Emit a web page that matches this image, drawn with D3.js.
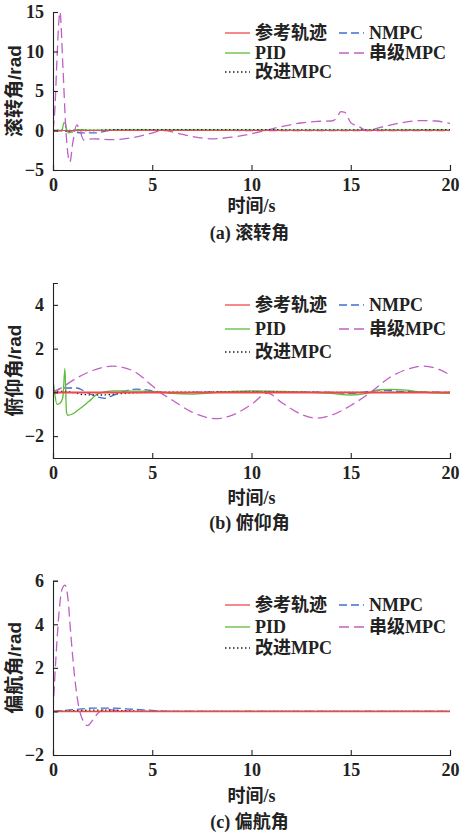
<!DOCTYPE html>
<html>
<head>
<meta charset="utf-8">
<script src="https://cdn.jsdelivr.net/npm/d3@7/dist/d3.min.js"></script>
<style>
  body { margin: 0; background: #fff; }
  .serif { font-family: "Liberation Serif", "Noto Sans CJK SC", serif; font-weight: bold; fill: #222; }
  .sans { font-family: "Liberation Sans", "Noto Sans CJK SC", sans-serif; font-weight: bold; fill: #222; }
  .axis path { fill: none; stroke: #222; }
  .axis line { stroke: #222; }
</style>
</head>
<body>
<svg id="fig" width="463" height="838"></svg>
<script>
// series names in legend order (row by row, two columns)
var names = ["参考轨迹", "NMPC", "PID", "串级MPC", "改进MPC"]
var xTicks = [0, 5, 10, 15, 20]

// (a) roll angle, [t, value]
var rollRef = [[0, 0], [20, 0]]
var rollNmpc = [[0, 0], [0.5, -0.05], [1, -0.2], [1.5, -0.3], [2.2, -0.3], [2.6, -0.1], [3, 0.05], [5, 0.05], [10, 0], [15, 0], [20, 0]]
var rollPid = [[0, 0], [0.45, 0], [0.55, 1.0], [0.62, 0.9], [0.7, 0], [0.8, -0.3], [1, 0], [1.3, 0.1], [2, 0.05], [5, 0.08], [10, 0.05], [15, 0.05], [20, 0.08]]
var rollCascade = [[0, 0], [0.1, 3], [0.2, 9], [0.3, 14], [0.35, 15], [0.5, 8], [0.65, 0], [0.85, -4], [1.0, -1.5], [1.2, 0.7], [1.35, 0], [1.55, -1.2], [2, -1.05], [3, -1.15], [4, -0.9], [4.8, -0.45], [5.6, 0], [6.2, -0.3], [7, -0.75], [8, -1.05], [9, -0.85], [10, -0.4], [10.7, 0], [11.5, 0.5], [12.5, 0.95], [13.3, 1.15], [14, 1.2], [14.3, 1.6], [14.5, 2.4], [14.7, 2.3], [15, 1.0], [15.4, 0.5], [15.8, 0], [16.5, 0.4], [17.5, 0.95], [18.5, 1.25], [19.3, 1.2], [20, 0.9]]
var rollImproved = [[0, 0], [1, 0], [2, 0], [3, 0.1], [5, 0.12], [10, 0.1], [15, 0.08], [20, 0.1]]
var rollTicks = [-5, 0, 5, 10, 15]

// (b) pitch angle
var pitchRef = [[0, 0], [20, 0]]
var pitchNmpc = [[0, 0], [0.3, 0.15], [0.6, 0.2], [1.2, 0.2], [1.6, 0.05], [2.2, -0.2], [2.6, -0.27], [3, -0.15], [3.6, 0.05], [4.2, 0.15], [4.8, 0.1], [5.5, 0], [6, -0.05], [7, 0], [10, 0.03], [14, 0], [15, -0.05], [16.5, 0.1], [17.5, 0.05], [20, 0]]
var pitchPid = [[0, 0.6], [0.08, 0], [0.2, -0.55], [0.35, -0.5], [0.5, -0.2], [0.6, 1.1], [0.68, -0.9], [0.75, -1.05], [0.95, -1.0], [1.3, -0.78], [1.8, -0.42], [2.3, -0.05], [3, 0.07], [4, 0.06], [5, 0.05], [6, -0.05], [7, -0.08], [8, -0.02], [9, 0.05], [10, 0.07], [11, 0.06], [12, 0.03], [13, 0], [14, -0.05], [15, -0.12], [15.8, -0.05], [16.5, 0.12], [17, 0.14], [17.8, 0.1], [18.5, 0.02], [20, -0.05]]
var pitchCascade = [[0, 0], [0.5, 0.25], [1, 0.55], [2, 1.0], [3, 1.2], [4, 1.0], [5, 0.3], [5.4, 0], [6, -0.35], [7, -0.9], [8.2, -1.2], [9, -1.05], [10, -0.55], [10.8, -0.03], [11.5, -0.45], [12.5, -1.0], [13.3, -1.18], [14, -1.05], [15, -0.6], [16, 0], [17, 0.7], [18, 1.1], [18.6, 1.2], [19.3, 1.1], [20, 0.8]]
var pitchImproved = [[0, 0], [0.5, 0.05], [1, 0], [1.5, -0.1], [2.5, -0.12], [3.5, -0.05], [5, 0], [10, 0.02], [15, 0], [20, 0]]
var pitchTicks = [-2, 0, 2, 4]

// (c) yaw angle
var yawRef = [[0, 0], [20, 0]]
var yawNmpc = [[0, 0], [1, 0.08], [2, 0.15], [3, 0.15], [4, 0.1], [5, 0.05], [6, 0], [20, 0]]
var yawPid = [[0, 0], [20, 0]]
var yawCascade = [[0, 0], [0.15, 2.5], [0.3, 4.5], [0.45, 5.6], [0.6, 5.8], [0.75, 5.2], [0.9, 3.5], [1.1, 1.5], [1.3, 0.2], [1.5, -0.4], [1.75, -0.65], [2.0, -0.4], [2.3, -0.05], [2.7, 0.1], [3.2, 0.05], [4, 0], [20, 0]]
var yawImproved = [[0, 0], [1, 0.03], [2, 0.06], [3, 0.05], [4, 0.02], [5, 0], [20, 0]]
var yawTicks = [-2, 0, 2, 4, 6]

var colors = ["#f04848", "#3f6fd0", "#5cbc3c", "#c060c4", "#222"]
var dashes = [null, "8,4", null, "10,5", "1.5,2.5"]
var serifFont = '"Liberation Serif", "Noto Sans CJK SC", serif'

var panels = [
  { top: 12, bottom: 170, domain: [-5, 15], ticks: rollTicks, ylabel: "滚转角/rad", caption: "(a) 滚转角",
    series: [rollRef, rollNmpc, rollPid, rollCascade, rollImproved], legendY: [33, 53, 72], refWidth: 1.2, xl: 42, cap: 69 },
  { top: 283, bottom: 458, domain: [-3, 5], ticks: pitchTicks, ylabel: "俯仰角/rad", caption: "(b) 俯仰角",
    series: [pitchRef, pitchNmpc, pitchPid, pitchCascade, pitchImproved], legendY: [305, 329, 352], refWidth: 2, xl: 46, cap: 71 },
  { top: 580.7, bottom: 755, domain: [-2, 6], ticks: yawTicks, ylabel: "偏航角/rad", caption: "(c) 偏航角",
    series: [yawRef, yawNmpc, yawPid, yawCascade, yawImproved], legendY: [605, 627, 648], refWidth: 1.6, xl: 47, cap: 73 }
]

var left = 53, right = 450
var svg = d3.select("#fig")
var x = d3.scaleLinear().domain([0, 20]).range([left, right])

panels.forEach(function(p, pi) {
  var y = d3.scaleLinear().domain(p.domain).range([p.bottom, p.top])

  svg.append("clipPath").attr("id", "clip" + pi)
    .append("rect").attr("x", left).attr("y", p.top - 1).attr("width", right - left).attr("height", p.bottom - p.top + 1)

  var line = d3.line().x(function(d) { return x(d[0]) }).y(function(d) { return y(d[1]) }).curve(d3.curveMonotoneX)
  var g = svg.append("g").attr("clip-path", "url(#clip" + pi + ")")
  // draw order: others first, reference last
  var order = [1, 2, 3, 4, 0]
  order.forEach(function(i) {
    g.append("path").datum(p.series[i])
      .attr("d", line)
      .attr("fill", "none")
      .attr("stroke", colors[i])
      .attr("stroke-width", i == 0 ? p.refWidth : 1.3)
      .attr("stroke-dasharray", dashes[i])
  })

  var ax = svg.append("g").attr("class", "axis")
    .attr("transform", "translate(0," + p.bottom + ")")
    .call(d3.axisBottom(x).tickValues(xTicks).tickSizeInner(-5).tickSizeOuter(-5).tickPadding(8))
  var ay = svg.append("g").attr("class", "axis")
    .attr("transform", "translate(" + left + ",0)")
    .call(d3.axisLeft(y).tickValues(p.ticks).tickSizeInner(-5).tickSizeOuter(-5).tickPadding(9))
  ;[ax, ay].forEach(function(a) {
    a.attr("font-family", serifFont).attr("font-size", 18).attr("font-weight", "bold")
    a.selectAll("text").attr("fill", "#222")
    a.selectAll("path, line").attr("stroke", "#222").attr("stroke-width", 1.1)
  })

  svg.append("text").attr("class", "sans")
    .attr("transform", "translate(21," + ((p.top + p.bottom) / 2) + ") rotate(-90)")
    .attr("text-anchor", "middle").attr("font-size", 19)
    .text(p.ylabel)

  svg.append("text").attr("class", "serif")
    .attr("x", (left + right) / 2).attr("y", p.bottom + p.xl)
    .attr("text-anchor", "middle").attr("font-size", 18)
    .text("时间/s")

  svg.append("text").attr("class", "serif")
    .attr("x", (left + right) / 2 - 2).attr("y", p.bottom + p.cap)
    .attr("text-anchor", "middle").attr("font-size", 18)
    .text(p.caption)

  // legend
  names.forEach(function(n, i) {
    var col = i % 2, row = Math.floor(i / 2)
    var lx = col == 0 ? 225 : 339
    var ly = p.legendY[row]
    svg.append("line")
      .attr("x1", lx).attr("x2", lx + 25).attr("y1", ly).attr("y2", ly)
      .attr("stroke", colors[i]).attr("stroke-width", 1.3)
      .attr("stroke-dasharray", dashes[i])
    svg.append("text").attr("class", "serif")
      .attr("x", lx + 30).attr("y", ly + 6)
      .attr("font-size", 18)
      .text(n)
  })
})
</script>
</body>
</html>
